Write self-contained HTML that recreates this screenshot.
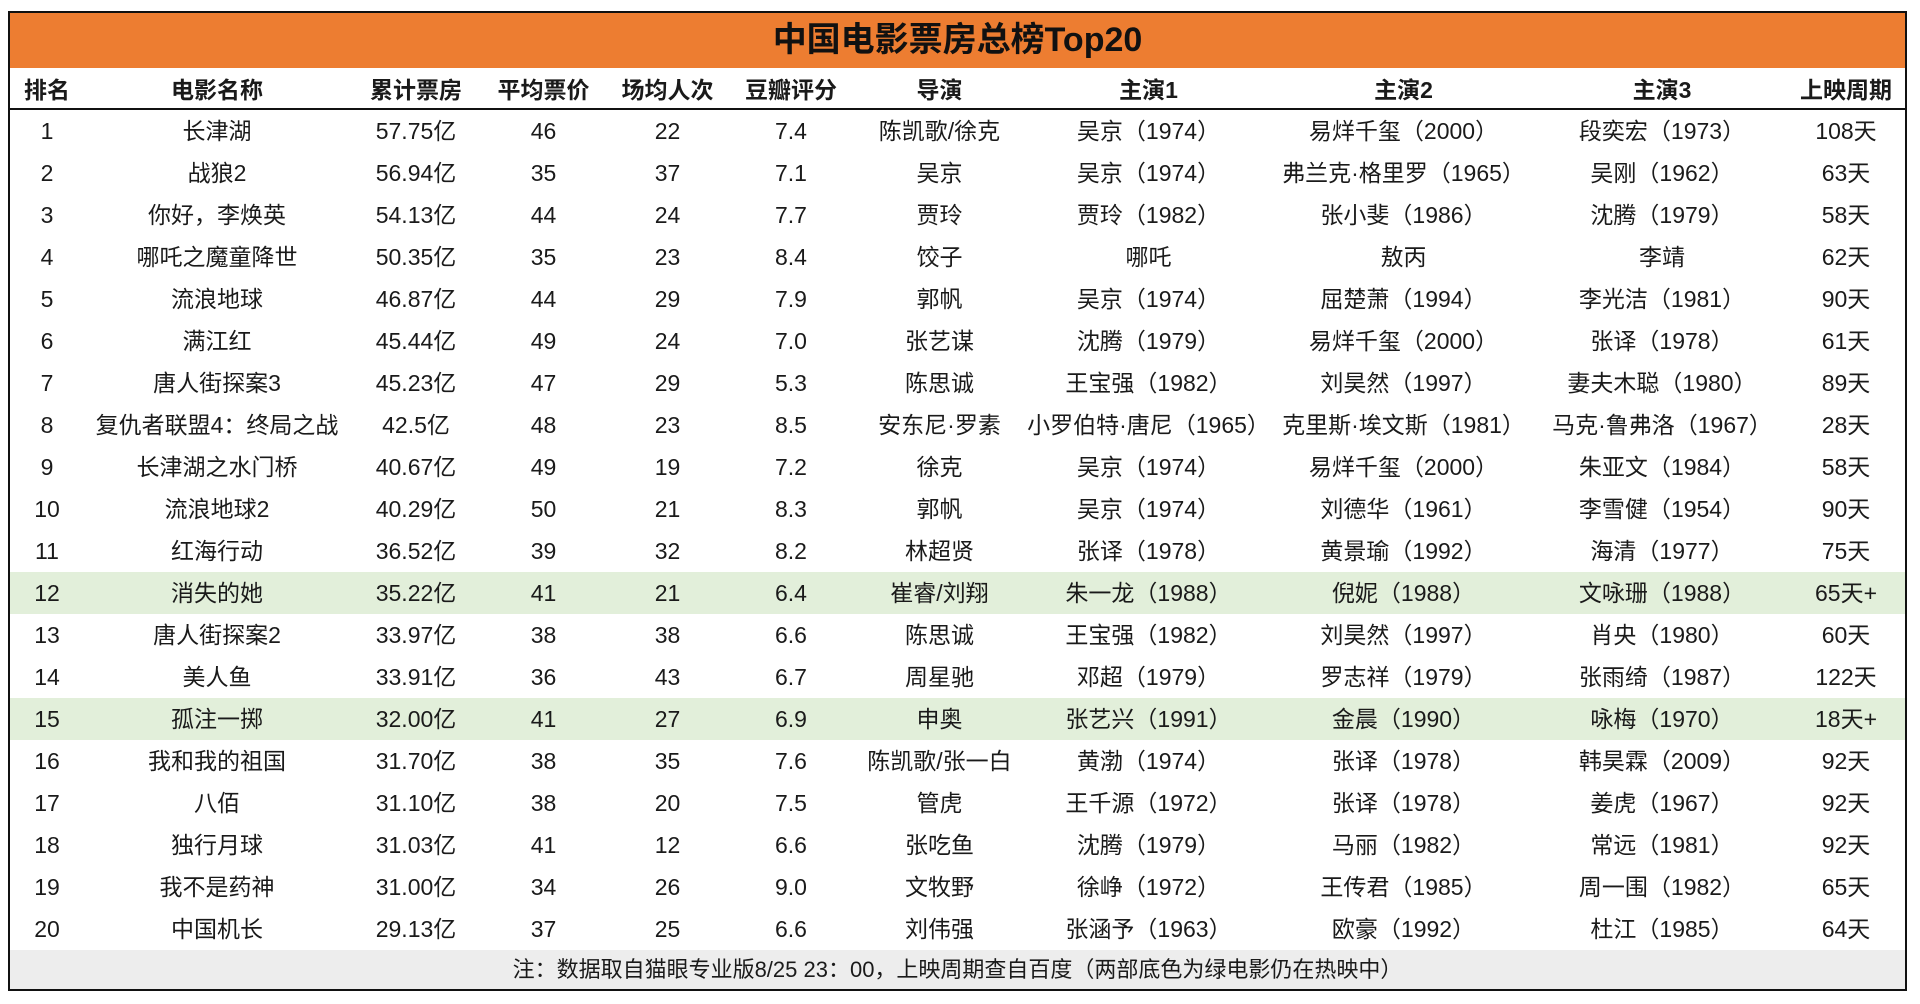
<!DOCTYPE html>
<html><head><meta charset="utf-8"><style>
body{margin:0;background:#fff;width:1920px;height:1004px;overflow:hidden;font-family:"Liberation Sans","Noto Sans CJK SC",sans-serif;}
#box{position:absolute;left:8px;top:11px;width:1899px;height:980px;border:2px solid #111;box-sizing:border-box;}
#title{position:absolute;left:0;top:0;width:100%;height:55px;background:#ed7d31;color:#111;font-weight:bold;font-size:34px;text-align:center;line-height:55px;}
table{position:absolute;left:0;top:55px;border-collapse:collapse;table-layout:fixed;width:1895px;}
td,th{text-align:center;padding:0;white-space:nowrap;color:#1a1a1a;}
th{height:40px;font-size:23px;font-weight:bold;border-bottom:2px solid #111;}
td{height:42px;font-size:23px;line-height:38px;}
tr.g td{background:#e2efda;}
#foot{position:absolute;left:0;top:937px;width:100%;height:39px;background:#ededed;font-size:22px;text-align:center;line-height:39px;color:#1a1a1a;}
</style></head><body>
<div id="box">
<div id="title">中国电影票房总榜Top20</div>
<table>
<colgroup><col style="width:74px"><col style="width:266px"><col style="width:132px"><col style="width:123px"><col style="width:125px"><col style="width:122px"><col style="width:175px"><col style="width:243px"><col style="width:267px"><col style="width:250px"><col style="width:118px"></colgroup>
<tr><th>排名</th><th>电影名称</th><th>累计票房</th><th>平均票价</th><th>场均人次</th><th>豆瓣评分</th><th>导演</th><th>主演1</th><th>主演2</th><th>主演3</th><th>上映周期</th></tr>
<tr><td>1</td><td>长津湖</td><td>57.75亿</td><td>46</td><td>22</td><td>7.4</td><td>陈凯歌/徐克</td><td>吴京（1974）</td><td>易烊千玺（2000）</td><td>段奕宏（1973）</td><td>108天</td></tr>
<tr><td>2</td><td>战狼2</td><td>56.94亿</td><td>35</td><td>37</td><td>7.1</td><td>吴京</td><td>吴京（1974）</td><td>弗兰克·格里罗（1965）</td><td>吴刚（1962）</td><td>63天</td></tr>
<tr><td>3</td><td>你好，李焕英</td><td>54.13亿</td><td>44</td><td>24</td><td>7.7</td><td>贾玲</td><td>贾玲（1982）</td><td>张小斐（1986）</td><td>沈腾（1979）</td><td>58天</td></tr>
<tr><td>4</td><td>哪吒之魔童降世</td><td>50.35亿</td><td>35</td><td>23</td><td>8.4</td><td>饺子</td><td>哪吒</td><td>敖丙</td><td>李靖</td><td>62天</td></tr>
<tr><td>5</td><td>流浪地球</td><td>46.87亿</td><td>44</td><td>29</td><td>7.9</td><td>郭帆</td><td>吴京（1974）</td><td>屈楚萧（1994）</td><td>李光洁（1981）</td><td>90天</td></tr>
<tr><td>6</td><td>满江红</td><td>45.44亿</td><td>49</td><td>24</td><td>7.0</td><td>张艺谋</td><td>沈腾（1979）</td><td>易烊千玺（2000）</td><td>张译（1978）</td><td>61天</td></tr>
<tr><td>7</td><td>唐人街探案3</td><td>45.23亿</td><td>47</td><td>29</td><td>5.3</td><td>陈思诚</td><td>王宝强（1982）</td><td>刘昊然（1997）</td><td>妻夫木聪（1980）</td><td>89天</td></tr>
<tr><td>8</td><td>复仇者联盟4：终局之战</td><td>42.5亿</td><td>48</td><td>23</td><td>8.5</td><td>安东尼·罗素</td><td>小罗伯特·唐尼（1965）</td><td>克里斯·埃文斯（1981）</td><td>马克·鲁弗洛（1967）</td><td>28天</td></tr>
<tr><td>9</td><td>长津湖之水门桥</td><td>40.67亿</td><td>49</td><td>19</td><td>7.2</td><td>徐克</td><td>吴京（1974）</td><td>易烊千玺（2000）</td><td>朱亚文（1984）</td><td>58天</td></tr>
<tr><td>10</td><td>流浪地球2</td><td>40.29亿</td><td>50</td><td>21</td><td>8.3</td><td>郭帆</td><td>吴京（1974）</td><td>刘德华（1961）</td><td>李雪健（1954）</td><td>90天</td></tr>
<tr><td>11</td><td>红海行动</td><td>36.52亿</td><td>39</td><td>32</td><td>8.2</td><td>林超贤</td><td>张译（1978）</td><td>黄景瑜（1992）</td><td>海清（1977）</td><td>75天</td></tr>
<tr class="g"><td>12</td><td>消失的她</td><td>35.22亿</td><td>41</td><td>21</td><td>6.4</td><td>崔睿/刘翔</td><td>朱一龙（1988）</td><td>倪妮（1988）</td><td>文咏珊（1988）</td><td>65天+</td></tr>
<tr><td>13</td><td>唐人街探案2</td><td>33.97亿</td><td>38</td><td>38</td><td>6.6</td><td>陈思诚</td><td>王宝强（1982）</td><td>刘昊然（1997）</td><td>肖央（1980）</td><td>60天</td></tr>
<tr><td>14</td><td>美人鱼</td><td>33.91亿</td><td>36</td><td>43</td><td>6.7</td><td>周星驰</td><td>邓超（1979）</td><td>罗志祥（1979）</td><td>张雨绮（1987）</td><td>122天</td></tr>
<tr class="g"><td>15</td><td>孤注一掷</td><td>32.00亿</td><td>41</td><td>27</td><td>6.9</td><td>申奥</td><td>张艺兴（1991）</td><td>金晨（1990）</td><td>咏梅（1970）</td><td>18天+</td></tr>
<tr><td>16</td><td>我和我的祖国</td><td>31.70亿</td><td>38</td><td>35</td><td>7.6</td><td>陈凯歌/张一白</td><td>黄渤（1974）</td><td>张译（1978）</td><td>韩昊霖（2009）</td><td>92天</td></tr>
<tr><td>17</td><td>八佰</td><td>31.10亿</td><td>38</td><td>20</td><td>7.5</td><td>管虎</td><td>王千源（1972）</td><td>张译（1978）</td><td>姜虎（1967）</td><td>92天</td></tr>
<tr><td>18</td><td>独行月球</td><td>31.03亿</td><td>41</td><td>12</td><td>6.6</td><td>张吃鱼</td><td>沈腾（1979）</td><td>马丽（1982）</td><td>常远（1981）</td><td>92天</td></tr>
<tr><td>19</td><td>我不是药神</td><td>31.00亿</td><td>34</td><td>26</td><td>9.0</td><td>文牧野</td><td>徐峥（1972）</td><td>王传君（1985）</td><td>周一围（1982）</td><td>65天</td></tr>
<tr><td>20</td><td>中国机长</td><td>29.13亿</td><td>37</td><td>25</td><td>6.6</td><td>刘伟强</td><td>张涵予（1963）</td><td>欧豪（1992）</td><td>杜江（1985）</td><td>64天</td></tr>
</table>
<div id="foot">注：数据取自猫眼专业版8/25 23：00，上映周期查自百度（两部底色为绿电影仍在热映中）</div>
</div>
</body></html>
